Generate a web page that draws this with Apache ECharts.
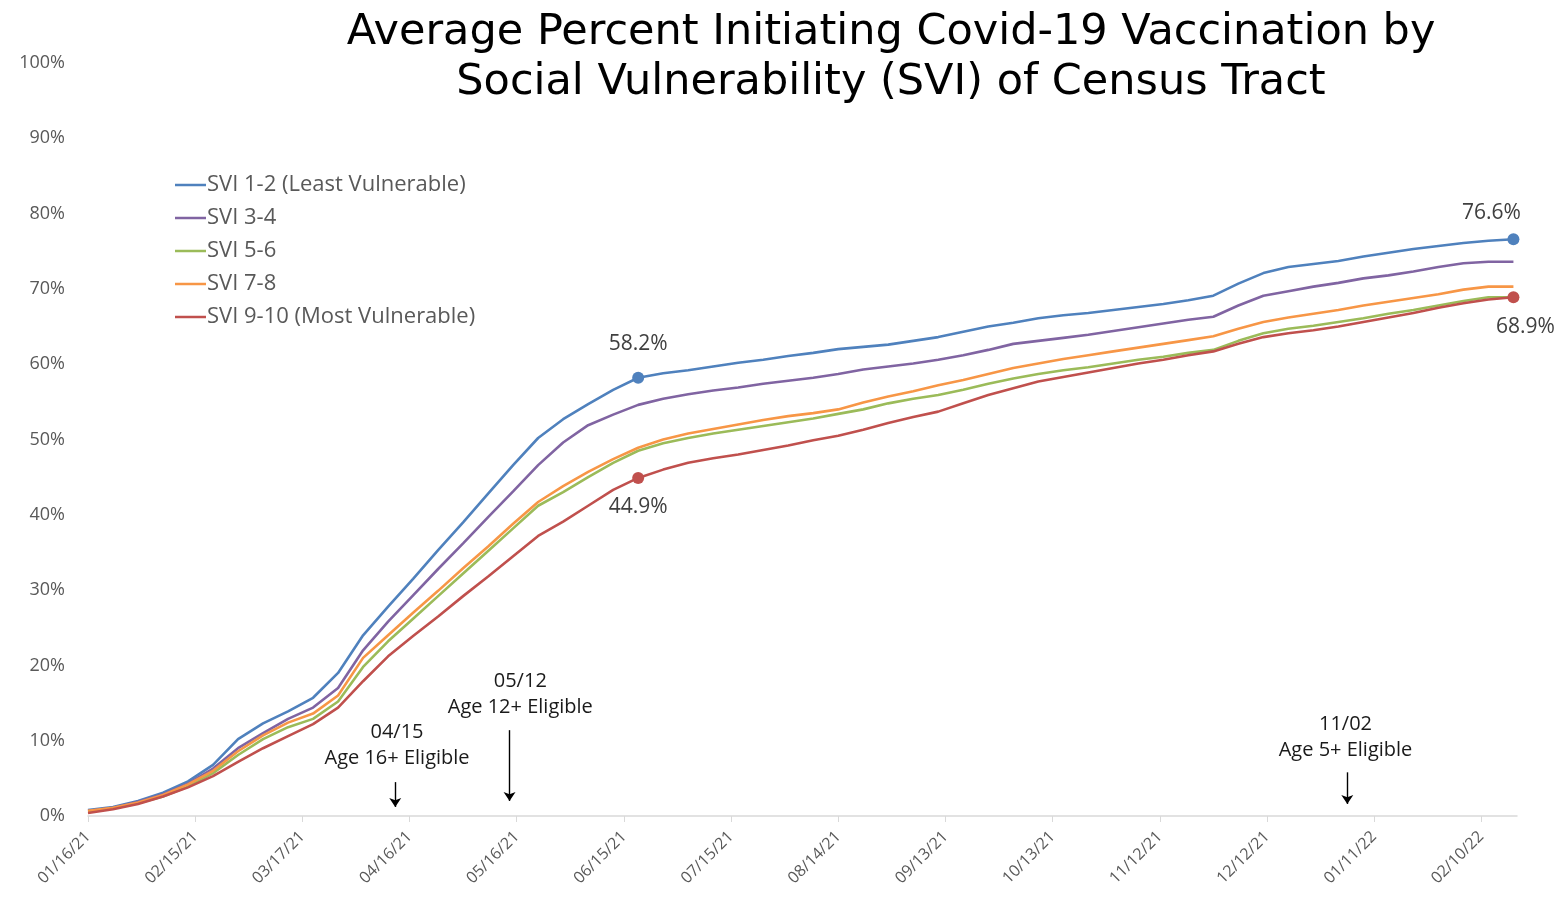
<!DOCTYPE html>
<html>
<head>
<meta charset="utf-8">
<script src="https://cdn.jsdelivr.net/npm/echarts@6/dist/echarts.min.js"></script>
<style>
html,body{margin:0;padding:0;background:#fff;}
#chart{width:1560px;height:906px;}
</style>
</head>
<body>
<div id="chart"></div>
<script>
// ---- data ----
const weekDates = [
 '2021-01-16','2021-01-23','2021-01-30','2021-02-06','2021-02-13','2021-02-20','2021-02-27','2021-03-06','2021-03-13','2021-03-20',
 '2021-03-27','2021-04-03','2021-04-10','2021-04-17','2021-04-24','2021-05-01','2021-05-08','2021-05-15','2021-05-22','2021-05-29',
 '2021-06-05','2021-06-12','2021-06-19','2021-06-26','2021-07-03','2021-07-10','2021-07-17','2021-07-24','2021-07-31','2021-08-07',
 '2021-08-14','2021-08-21','2021-08-28','2021-09-04','2021-09-11','2021-09-18','2021-09-25','2021-10-02','2021-10-09','2021-10-16',
 '2021-10-23','2021-10-30','2021-11-06','2021-11-13','2021-11-20','2021-11-27','2021-12-04','2021-12-11','2021-12-18','2021-12-25',
 '2022-01-01','2022-01-08','2022-01-15','2022-01-22','2022-01-29','2022-02-05','2022-02-12','2022-02-19'
];
const svi12 = [
 0.8,1.2,2.0,3.1,4.6,6.8,10.2,12.3,13.9,15.7,
 19.0,24.0,27.8,31.5,35.3,39.0,42.8,46.6,50.2,52.7,
 54.7,56.6,58.2,58.8,59.2,59.7,60.2,60.6,61.1,61.5,
 62.0,62.3,62.6,63.1,63.6,64.3,65.0,65.5,66.1,66.5,
 66.8,67.2,67.6,68.0,68.5,69.1,70.7,72.1,72.9,73.3,
 73.7,74.3,74.8,75.3,75.7,76.1,76.4,76.6
];
const svi34 = [
 0.7,1.1,1.9,2.9,4.3,6.3,9.0,11.0,12.9,14.4,
 17.0,22.0,25.8,29.3,32.8,36.2,39.7,43.1,46.6,49.6,
 51.9,53.3,54.6,55.4,56.0,56.5,56.9,57.4,57.8,58.2,
 58.7,59.3,59.7,60.1,60.6,61.2,61.9,62.7,63.1,63.5,
 63.9,64.4,64.9,65.4,65.9,66.3,67.8,69.1,69.7,70.3,
 70.8,71.4,71.8,72.3,72.9,73.4,73.6,73.6
];
const svi56 = [
 0.6,1.0,1.7,2.6,3.9,5.7,8.1,10.2,11.8,12.9,
 15.2,19.8,23.2,26.2,29.2,32.2,35.2,38.2,41.2,43.0,
 45.0,46.9,48.5,49.5,50.2,50.8,51.3,51.8,52.3,52.8,
 53.4,54.0,54.8,55.4,55.9,56.6,57.4,58.1,58.7,59.2,
 59.6,60.1,60.6,61.0,61.5,61.9,63.1,64.1,64.7,65.1,
 65.6,66.1,66.7,67.2,67.8,68.4,68.9,68.9
];
const svi78 = [
 0.7,1.1,1.8,2.8,4.2,6.0,8.6,10.7,12.4,13.6,
 16.0,21.0,24.0,27.0,29.9,32.9,35.8,38.8,41.7,43.8,
 45.7,47.4,48.9,50.0,50.8,51.4,52.0,52.6,53.1,53.5,
 54.0,54.9,55.7,56.4,57.2,57.9,58.7,59.5,60.1,60.7,
 61.2,61.7,62.2,62.7,63.2,63.7,64.7,65.6,66.2,66.7,
 67.2,67.8,68.3,68.8,69.3,69.9,70.3,70.3
];
const svi910 = [
 0.4,0.9,1.6,2.6,3.8,5.3,7.2,9.0,10.6,12.2,
 14.4,17.9,21.2,23.9,26.5,29.2,31.8,34.5,37.2,39.1,
 41.2,43.3,44.9,46.0,46.9,47.5,48.0,48.6,49.2,49.9,
 50.5,51.3,52.2,53.0,53.7,54.8,55.9,56.8,57.7,58.3,
 58.9,59.5,60.1,60.6,61.2,61.7,62.7,63.6,64.1,64.5,
 65.0,65.6,66.2,66.8,67.5,68.1,68.6,68.9
];
const seriesNames = ['SVI 1-2 (Least Vulnerable)','SVI 3-4','SVI 5-6','SVI 7-8','SVI 9-10 (Most Vulnerable)'];
const xTickLabels = ['01/16/21','02/15/21','03/17/21','04/16/21','05/16/21','06/15/21','07/15/21','08/14/21','09/13/21','10/13/21','11/12/21','12/12/21','01/11/22','02/10/22'];
const yTickLabels = ['0%','10%','20%','30%','40%','50%','60%','70%','80%','90%','100%'];
const highlightIdx = [22, 57];
const annotationText = ['04/15\nAge 16+ Eligible','05/12\nAge 12+ Eligible','11/02\nAge 5+ Eligible'];

// ---- helpers ----
const DAY = 86400000;
const t0 = Date.parse('2021-01-16T00:00:00Z');
function dayOf(iso){ return Math.round((Date.parse(iso + 'T00:00:00Z') - t0) / DAY); }
function dayOfLabel(s){ const [m,d,y] = s.split('/'); return dayOf('20' + y + '-' + m + '-' + d); }
const xDays = weekDates.map(dayOf);
const tickDays = xTickLabels.map(dayOfLabel);
const tickLabelByDay = {}; tickDays.forEach((d,i)=>{ tickLabelByDay[d] = xTickLabels[i]; });
const pairs = arr => arr.map((v,i)=>[xDays[i], v]);

const colors = ['#4F81BD','#8064A2','#9BBB59','#F79646','#C0504D'];
const FONT = 'Open Sans';

function mkSeries(name, arr, color, marks){
  const s = {
    name, type:'line', data: pairs(arr), showSymbol:false, symbol:'none',
    lineStyle:{color, width:2.6}, itemStyle:{color}, smooth:false, silent:true,
    emphasis:{disabled:true}, animation:false
  };
  if (marks) {
    s.markPoint = {
      silent:true, animation:false,
      symbol:'circle', symbolSize:12,
      itemStyle:{color},
      data: marks
    };
  }
  return s;
}

const lastI = highlightIdx[1], midI = highlightIdx[0];
const blueMarks = [
  {coord:[xDays[midI], svi12[midI]], label:{show:true, position:'top', distance:17, formatter: svi12[midI].toFixed(1)+'%'}},
  {coord:[xDays[lastI], svi12[lastI]], label:{show:true, position:'top', distance:10, offset:[-22,0], formatter: svi12[lastI].toFixed(1)+'%'}}
];
const redMarks = [
  {coord:[xDays[midI], svi910[midI]], label:{show:true, position:'bottom', distance:13, formatter: svi910[midI].toFixed(1)+'%'}},
  {coord:[xDays[lastI], svi910[lastI]], label:{show:true, position:'bottom', distance:13, offset:[12,0], formatter: svi910[lastI].toFixed(1)+'%'}}
];
const markLabelStyle = {color:'#404040', fontSize:21, fontFamily:FONT};
blueMarks.concat(redMarks).forEach(m => Object.assign(m.label, markLabelStyle));

const series = [
  mkSeries(seriesNames[0], svi12, colors[0], blueMarks),
  mkSeries(seriesNames[1], svi34, colors[1]),
  mkSeries(seriesNames[2], svi56, colors[2]),
  mkSeries(seriesNames[3], svi78, colors[3]),
  mkSeries(seriesNames[4], svi910, colors[4], redMarks)
];

// annotation series (text + arrows), placed in data space
const annText = [
  {coord:[86.5, 9.4], t: annotationText[0]},
  {coord:[121, 16.2], t: annotationText[1]},
  {coord:[352, 10.5], t: annotationText[2]}
];
const annArrows = [
  [[86, 4.5],[86, 1.2]],
  [[118, 11.4],[118, 2.0]],
  [[352.5, 5.8],[352.5, 1.6]]
];
series.push({
  name:'annotations', type:'line', data:[], silent:true, animation:false,
  markPoint:{
    silent:true, animation:false, symbol:'circle', symbolSize:0,
    data: annText.map(a => ({coord:a.coord, label:{show:true, position:'inside', formatter:a.t, color:'#1a1a1a', fontSize:20, lineHeight:26, fontFamily:FONT}}))
  },
  markLine:{
    silent:true, animation:false, symbol:['none','arrow'], symbolSize:9,
    lineStyle:{color:'#000', width:1.4, type:'solid'},
    itemStyle:{color:'#000'},
    label:{show:false},
    data: annArrows.map(a => [{coord:a[0]},{coord:a[1]}])
  }
});

const chart = echarts.init(document.getElementById('chart'), null, {renderer:'canvas'});
chart.setOption({
  animation:false,
  backgroundColor:'#fff',
  title:{
    text:'Average Percent Initiating Covid-19 Vaccination by\nSocial Vulnerability (SVI) of Census Tract',
    left:886, top:3, textAlign:'center',
    textStyle:{fontFamily:'DejaVu Sans', fontSize:43, fontWeight:'normal', color:'#000', lineHeight:50}
  },
  legend:{
    data: seriesNames, orient:'vertical', left:170, top:169,
    icon:'rect', itemWidth:31, itemHeight:2.5, itemGap:11,
    textStyle:{fontFamily:FONT, fontSize:22, color:'#595959', lineHeight:22, padding:[0,0,0,-4]},
    selectedMode:false
  },
  grid:{left:88, right:43, top:63, bottom:90, containLabel:false},
  xAxis:{
    type:'value', min:0, max:400,
    axisLine:{show:true, lineStyle:{color:'#d9d9d9', width:1.5}},
    axisTick:{show:true, customValues: tickDays, length:6, lineStyle:{color:'#d9d9d9'}},
    axisLabel:{customValues: tickDays, rotate:45, margin:18, color:'#595959', fontSize:16, fontFamily:FONT,
      formatter: v => tickLabelByDay[v] || ''},
    splitLine:{show:false}
  },
  yAxis:{
    type:'value', min:0, max:100, interval:10,
    axisLine:{show:false}, axisTick:{show:false}, splitLine:{show:false},
    axisLabel:{margin:23, color:'#595959', fontSize:18, fontFamily:FONT,
      formatter: v => yTickLabels[Math.round(v/10)]}
  },
  series
});
</script>
</body>
</html>
